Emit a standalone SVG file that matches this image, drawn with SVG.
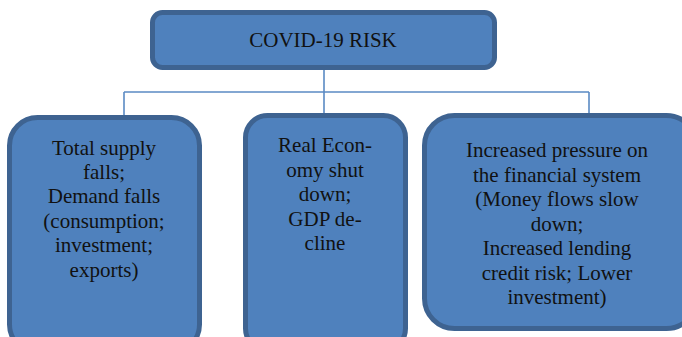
<svg xmlns="http://www.w3.org/2000/svg" width="682" height="337" viewBox="0 0 682 337">
<style>
.box{fill:#4f81bd;stroke:#3e6391;stroke-width:5}
.t{font-family:'Liberation Serif','Times New Roman',Times,serif;font-size:21px;fill:#111;text-anchor:middle}
.c{stroke:#5b8ac4;stroke-width:1.6;fill:none}
</style>
<rect width="682" height="337" fill="#fff"/>
<g id="connectors">
<path class="c" d="M324 70 V117 M124 92 H589 M124 92 V117 M589 92 V115"/>
</g>
<g id="top">
<rect class="box" x="152.5" y="12.5" width="342" height="55" rx="10"/>
<text class="t" x="323" y="47" font-family="Liberation Serif, serif">COVID-19 RISK</text>
</g>
<g id="left">
<rect class="box" x="9.5" y="117.5" width="190" height="235" rx="28"/>
<text class="t" font-family="Liberation Serif, serif"><tspan x="104" y="155">Total supply</tspan><tspan x="104" y="179">falls;</tspan><tspan x="104" y="203">Demand falls</tspan><tspan x="104" y="228">(consumption;</tspan><tspan x="104" y="252">investment;</tspan><tspan x="104" y="277">exports)</tspan></text>
</g>
<g id="middle">
<rect class="box" x="245.5" y="115.5" width="160" height="235" rx="22"/>
<text class="t" font-family="Liberation Serif, serif"><tspan x="325" y="152">Real Econ-</tspan><tspan x="325" y="177">omy shut</tspan><tspan x="325" y="201">down;</tspan><tspan x="325" y="226">GDP de-</tspan><tspan x="325" y="250">cline</tspan></text>
</g>
<g id="right">
<rect class="box" x="424.5" y="115.5" width="272" height="213" rx="30"/>
<text class="t" font-family="Liberation Serif, serif"><tspan x="557" y="157">Increased pressure on</tspan><tspan x="557" y="182">the financial system</tspan><tspan x="557" y="206">(Money flows slow</tspan><tspan x="557" y="231">down;</tspan><tspan x="557" y="255">Increased lending</tspan><tspan x="557" y="280">credit risk; Lower</tspan><tspan x="557" y="304">investment)</tspan></text>
</g>
</svg>
